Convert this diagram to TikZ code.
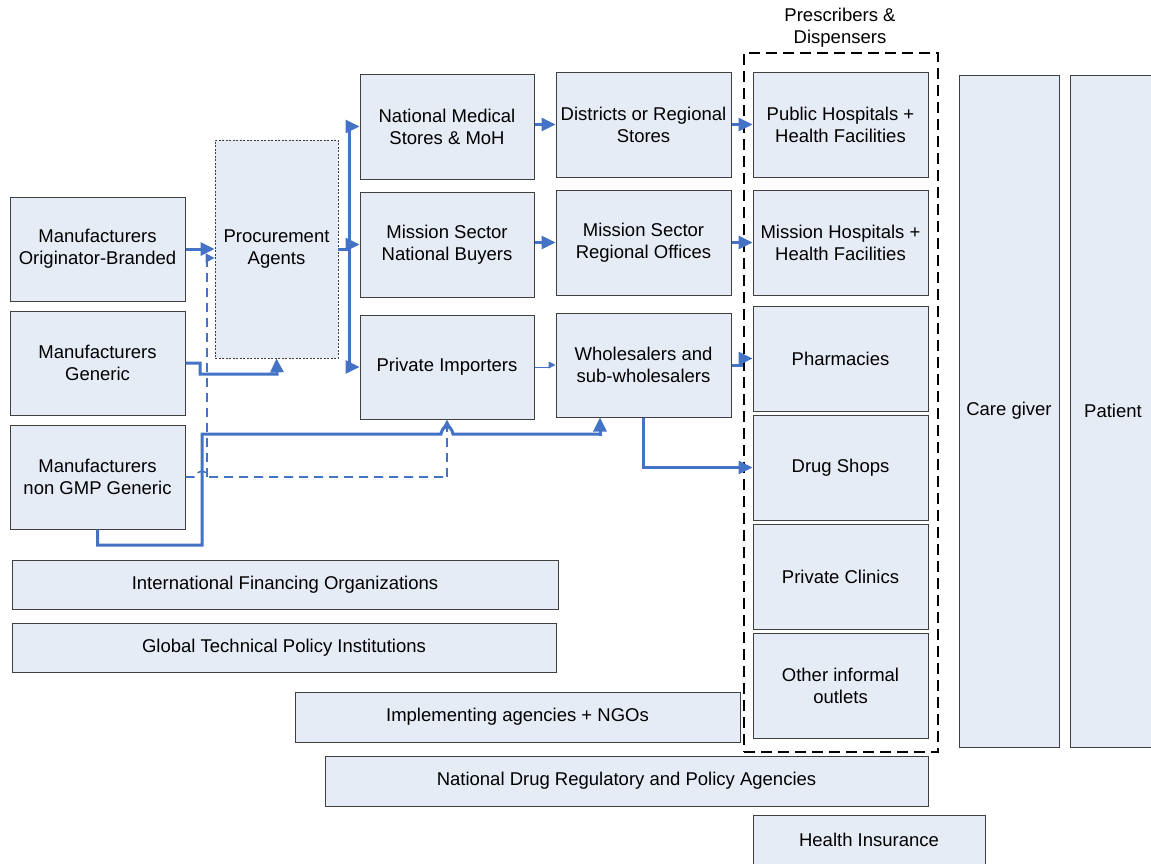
\documentclass[tikz,border=0pt]{standalone}
\usepackage{fontspec}
\setmainfont{Liberation Sans}
\usetikzlibrary{arrows.meta}
\definecolor{bl}{RGB}{68,114,196}
\definecolor{bf}{RGB}{230,236,246}
\begin{document}
\begin{tikzpicture}[x=1pt,y=-1pt,
 box/.style={draw=black!75, line width=1pt, fill=bf, align=center, inner sep=2pt,
   font=\fontsize{18.5}{22}\selectfont, text=black},
 bline/.style={draw=bl, line width=3pt},
 flow/.style={draw=bl, line width=3pt, -{Triangle[length=14pt,width=13pt]}},
 thinflow/.style={draw=bl, line width=1pt, -{Triangle[length=7pt,width=7pt]}},
 dflow/.style={draw=bl, line width=1.6pt, dash pattern=on 9pt off 6pt, -{Triangle[length=9pt,width=9pt]}},
 dline/.style={draw=bl, line width=1.6pt, dash pattern=on 9pt off 6pt},
]
\useasboundingbox (0,0) rectangle (1151,863);

% left column
\node[box, minimum width=175, minimum height=104] (mob) at (97.5,249) {Manufacturers\\Originator-Branded};
\node[box, minimum width=175, minimum height=104] (mg) at (97.5,363) {Manufacturers\\Generic};
\node[box, minimum width=175, minimum height=104] (mng) at (97.5,477) {Manufacturers\\non GMP Generic};
\node[box, draw=black!75, line width=0.8pt, dash pattern=on 2pt off 1.5pt, minimum width=123, minimum height=218] (pa) at (276.5,249) {Procurement\\Agents};

% second column
\node[box, minimum width=174, minimum height=105] (nms) at (447,126.5) {National Medical\\Stores \& MoH};
\node[box, minimum width=174, minimum height=105] (msnb) at (447,244.5) {Mission Sector\\National Buyers};
\node[box, minimum width=174, minimum height=104] (pi) at (447,367) {Private Importers};

% third column
\node[box, minimum width=175, minimum height=105] (drs) at (643.5,124.5) {Districts or Regional\\Stores};
\node[box, minimum width=175, minimum height=105] (msro) at (643.5,242.5) {Mission Sector\\Regional Offices};
\node[box, minimum width=175, minimum height=104] (ws) at (643.5,365) {Wholesalers and\\sub-wholesalers};

% prescribers & dispensers
\node[draw=black, line width=1.8pt, dash pattern=on 11pt off 6pt, minimum width=194, minimum height=699, inner sep=0pt] (grp) at (841,402.5) {};
\node[align=center, font=\fontsize{18.5}{22}\selectfont] (grpt) at (840,28) {Prescribers \&\\Dispensers};
\node[box, minimum width=175, minimum height=105] (ph) at (840.5,124.5) {Public Hospitals +\\Health Facilities};
\node[box, minimum width=175, minimum height=105] (mh) at (840.5,242.5) {Mission Hospitals +\\Health Facilities};
\node[box, minimum width=175, minimum height=105] (phar) at (840.5,358.5) {Pharmacies};
\node[box, minimum width=175, minimum height=105] (ds) at (840.5,467.5) {Drug Shops};
\node[box, minimum width=175, minimum height=105] (pc) at (840.5,576.5) {Private Clinics};
\node[box, minimum width=175, minimum height=105] (oi) at (840.5,685.5) {Other informal\\outlets};

\node[box, minimum width=100, minimum height=672] (cg) at (1009,411) {Care giver};
\node[box, minimum width=86, minimum height=672] (pat) at (1113,411) {Patient};

% bottom bars
\node[box, minimum width=546, minimum height=49] (ifo) at (285,584.5) {International Financing Organizations};
\node[box, minimum width=544, minimum height=49] (gtpi) at (284,647.5) {Global Technical Policy Institutions};
\node[box, minimum width=445, minimum height=50] (ia) at (517.5,717) {Implementing agencies + NGOs};
\node[box, minimum width=603, minimum height=50] (ndr) at (626.5,781) {National Drug Regulatory and Policy Agencies};
\node[box, minimum width=232, minimum height=50] (hi) at (869,840) {Health Insurance};

% connectors: manufacturers -> procurement agents
\draw[flow] (mob.east) -- (pa.west);
\draw[flow] (mg.east) -- (200,363) -- (200,374) -- (277,374) -- (pa.south);

% dashed from non GMP generic
\draw[dline] (mng.east) -- (196,477) .. controls (197,469) and (207,469) .. (208,477) -- (447,477);
\draw[dflow] (447,477) -- (pi.south);
\draw[dflow] (207,477) -- (207,258) -- (pa.west |- 0,258);

% solid from non GMP generic to wholesalers
\coordinate (wsin) at ([xshift=-43.5pt]ws.south);
\draw[bline] (mng.south) -- (97.5,545) -- (202,545) -- (202,434) -- (441,434)
  .. controls (443,424) and (451,424) .. (453,434) -- (600,434);
\draw[flow] (600,435.5) -- (wsin);

% bus from procurement agents
\coordinate (bus) at (349,249);
\draw[bline] (pa.east) -- (bus);
\draw[bline] (bus |- nms.west) -- (bus |- pi.west);
\draw[flow] (bus |- nms.west) -- (nms.west);
\draw[flow] (bus |- msnb.west) -- (msnb.west);
\draw[flow] (bus |- pi.west) -- (pi.west);

% second -> third column
\draw[flow] (nms.east |- drs.west) -- (drs.west);
\draw[flow] (msnb.east |- msro.west) -- (msro.west);
\draw[thinflow] (pi.east) -- (549,367) -- (549,365) -- (ws.west);

% third column -> prescribers
\draw[flow] (drs.east) -- (ph.west);
\draw[flow] (msro.east) -- (mh.west);
\draw[flow] (ws.east) -- (741,365) -- (741,358.5) -- (phar.west);
\draw[flow] (ws.south) |- (ds.west);
\end{tikzpicture}
\end{document}
